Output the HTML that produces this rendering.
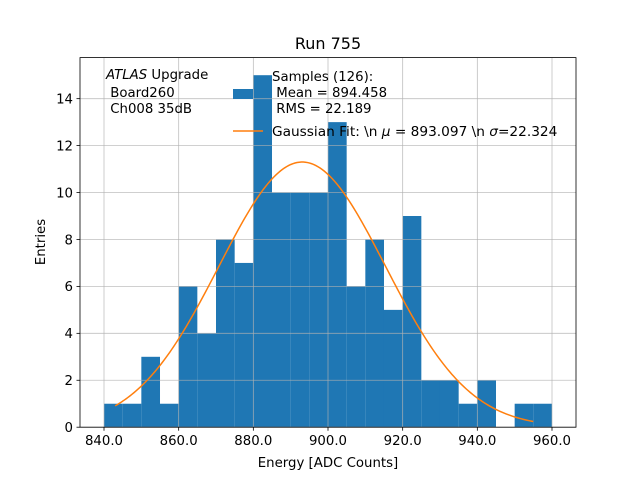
<!DOCTYPE html>
<html><head><meta charset="utf-8"><style>
body{margin:0;background:#fff;}
svg text{font-family:"DejaVu Sans","Liberation Sans",sans-serif;fill:#000;}
</style></head><body>
<svg id="chart" width="640" height="480" viewBox="0 0 640 480">
<rect x="0" y="0" width="640" height="480" fill="#fff"/>
<text x="328" y="49" font-size="16" text-anchor="middle">Run 755</text>
<g id="bars"></g>
<g id="grid"></g>
<path id="fit" fill="none" stroke="#ff7f0e" stroke-width="1.5"/>
<rect x="80" y="57.6" width="496" height="369.6" fill="none" stroke="#000" stroke-width="0.8"/>
<g id="xticks"></g>
<g id="yticks"></g>
<text x="328" y="467" font-size="13.3" text-anchor="middle">Energy [ADC Counts]</text>
<text transform="translate(45,242) rotate(-90)" font-size="13.3" text-anchor="middle">Entries</text>
<g>
<text x="106" y="79" font-size="13.3"><tspan font-style="italic">ATLAS</tspan> Upgrade</text>
<text x="106" y="97" font-size="13.3" xml:space="preserve"> Board260</text>
<text x="106" y="113" font-size="13.3" xml:space="preserve"> Ch008 35dB</text>
</g>
<g>
<rect x="233" y="89" width="20" height="10" fill="#1f77b4"/>
<text x="272" y="81" font-size="13.3">Samples (126):</text>
<text x="272" y="97" font-size="13.3" xml:space="preserve"> Mean = 894.458</text>
<text x="272" y="113" font-size="13.3" xml:space="preserve"> RMS = 22.189</text>
<line x1="233" y1="131" x2="263" y2="131" stroke="#ff7f0e" stroke-width="1.5"/>
<text x="272" y="136" font-size="13.7">Gaussian Fit: \n <tspan font-style="italic">μ</tspan> = 893.097 \n <tspan font-style="italic">σ</tspan>=22.324</text>
</g>
</svg>
<script>
const binEdgesStart = 840;
const binWidth = 5;
const counts = [1,1,3,1,6,4,8,7,15,10,10,10,13,6,8,5,9,2,2,1,2,0,1,1];
const xTicks = [840,860,880,900,920,940,960];
const yTicks = [0,2,4,6,8,10,12,14];
const fitMu = [893.097];
const fitSigma = [22.324];
const fitAmp = [11.3];
const fitRange = [843, 955];

const NS = "http://www.w3.org/2000/svg";
const L = 80, R = 576, T = 57.6, B = 427.2;
const xMin = 833.57, xMax = 966.43, yMax = 15.75;
const sx = v => L + (v - xMin) / (xMax - xMin) * (R - L);
const sy = v => B - v / yMax * (B - T);
function mk(tag, attrs, parent){const e=document.createElementNS(NS,tag);for(const k in attrs)e.setAttribute(k,attrs[k]);parent.appendChild(e);return e;}

const bars = document.getElementById('bars');
counts.forEach((c,i)=>{
  if(c<=0) return;
  const x0 = sx(binEdgesStart + i*binWidth), x1 = sx(binEdgesStart + (i+1)*binWidth);
  const r = mk('rect',{x:x0,y:sy(c),width:x1-x0,height:sy(0)-sy(c),fill:'#1f77b4'},bars);
  
  
});
const grid = document.getElementById('grid');
const xg = document.getElementById('xticks');
xTicks.forEach(t=>{
  const x = sx(t);
  const g = mk('line',{x1:x,x2:x,y1:T,y2:B,stroke:'#b0b0b0','stroke-width':0.8,'stroke-opacity':0.8},grid);
  
  
  mk('line',{x1:x,x2:x,y1:B,y2:B+3.5,stroke:'#000','stroke-width':0.8},xg);
  const tx = mk('text',{x:x,y:B+18,'font-size':13.3,'text-anchor':'middle'},xg);
  tx.textContent = t.toFixed(1);
  
  
});
const yg = document.getElementById('yticks');
yTicks.forEach(t=>{
  const y = sy(t);
  const g = mk('line',{x1:L,x2:R,y1:y,y2:y,stroke:'#b0b0b0','stroke-width':0.8,'stroke-opacity':0.8},grid);
  
  
  mk('line',{x1:L-3.5,x2:L,y1:y,y2:y,stroke:'#000','stroke-width':0.8},yg);
  const tx = mk('text',{x:L-7,y:y+4.8,'font-size':13.3,'text-anchor':'end'},yg);
  tx.textContent = t;
  
  
});
let d = '';
const n = 200;
for(let i=0;i<=n;i++){
  const xv = fitRange[0] + (fitRange[1]-fitRange[0])*i/n;
  const yv = fitAmp[0]*Math.exp(-Math.pow(xv-fitMu[0],2)/(2*fitSigma[0]*fitSigma[0]));
  d += (i?'L':'M') + sx(xv).toFixed(2) + ',' + sy(yv).toFixed(2);
}
document.getElementById('fit').setAttribute('d', d);
</script>
</body></html>
